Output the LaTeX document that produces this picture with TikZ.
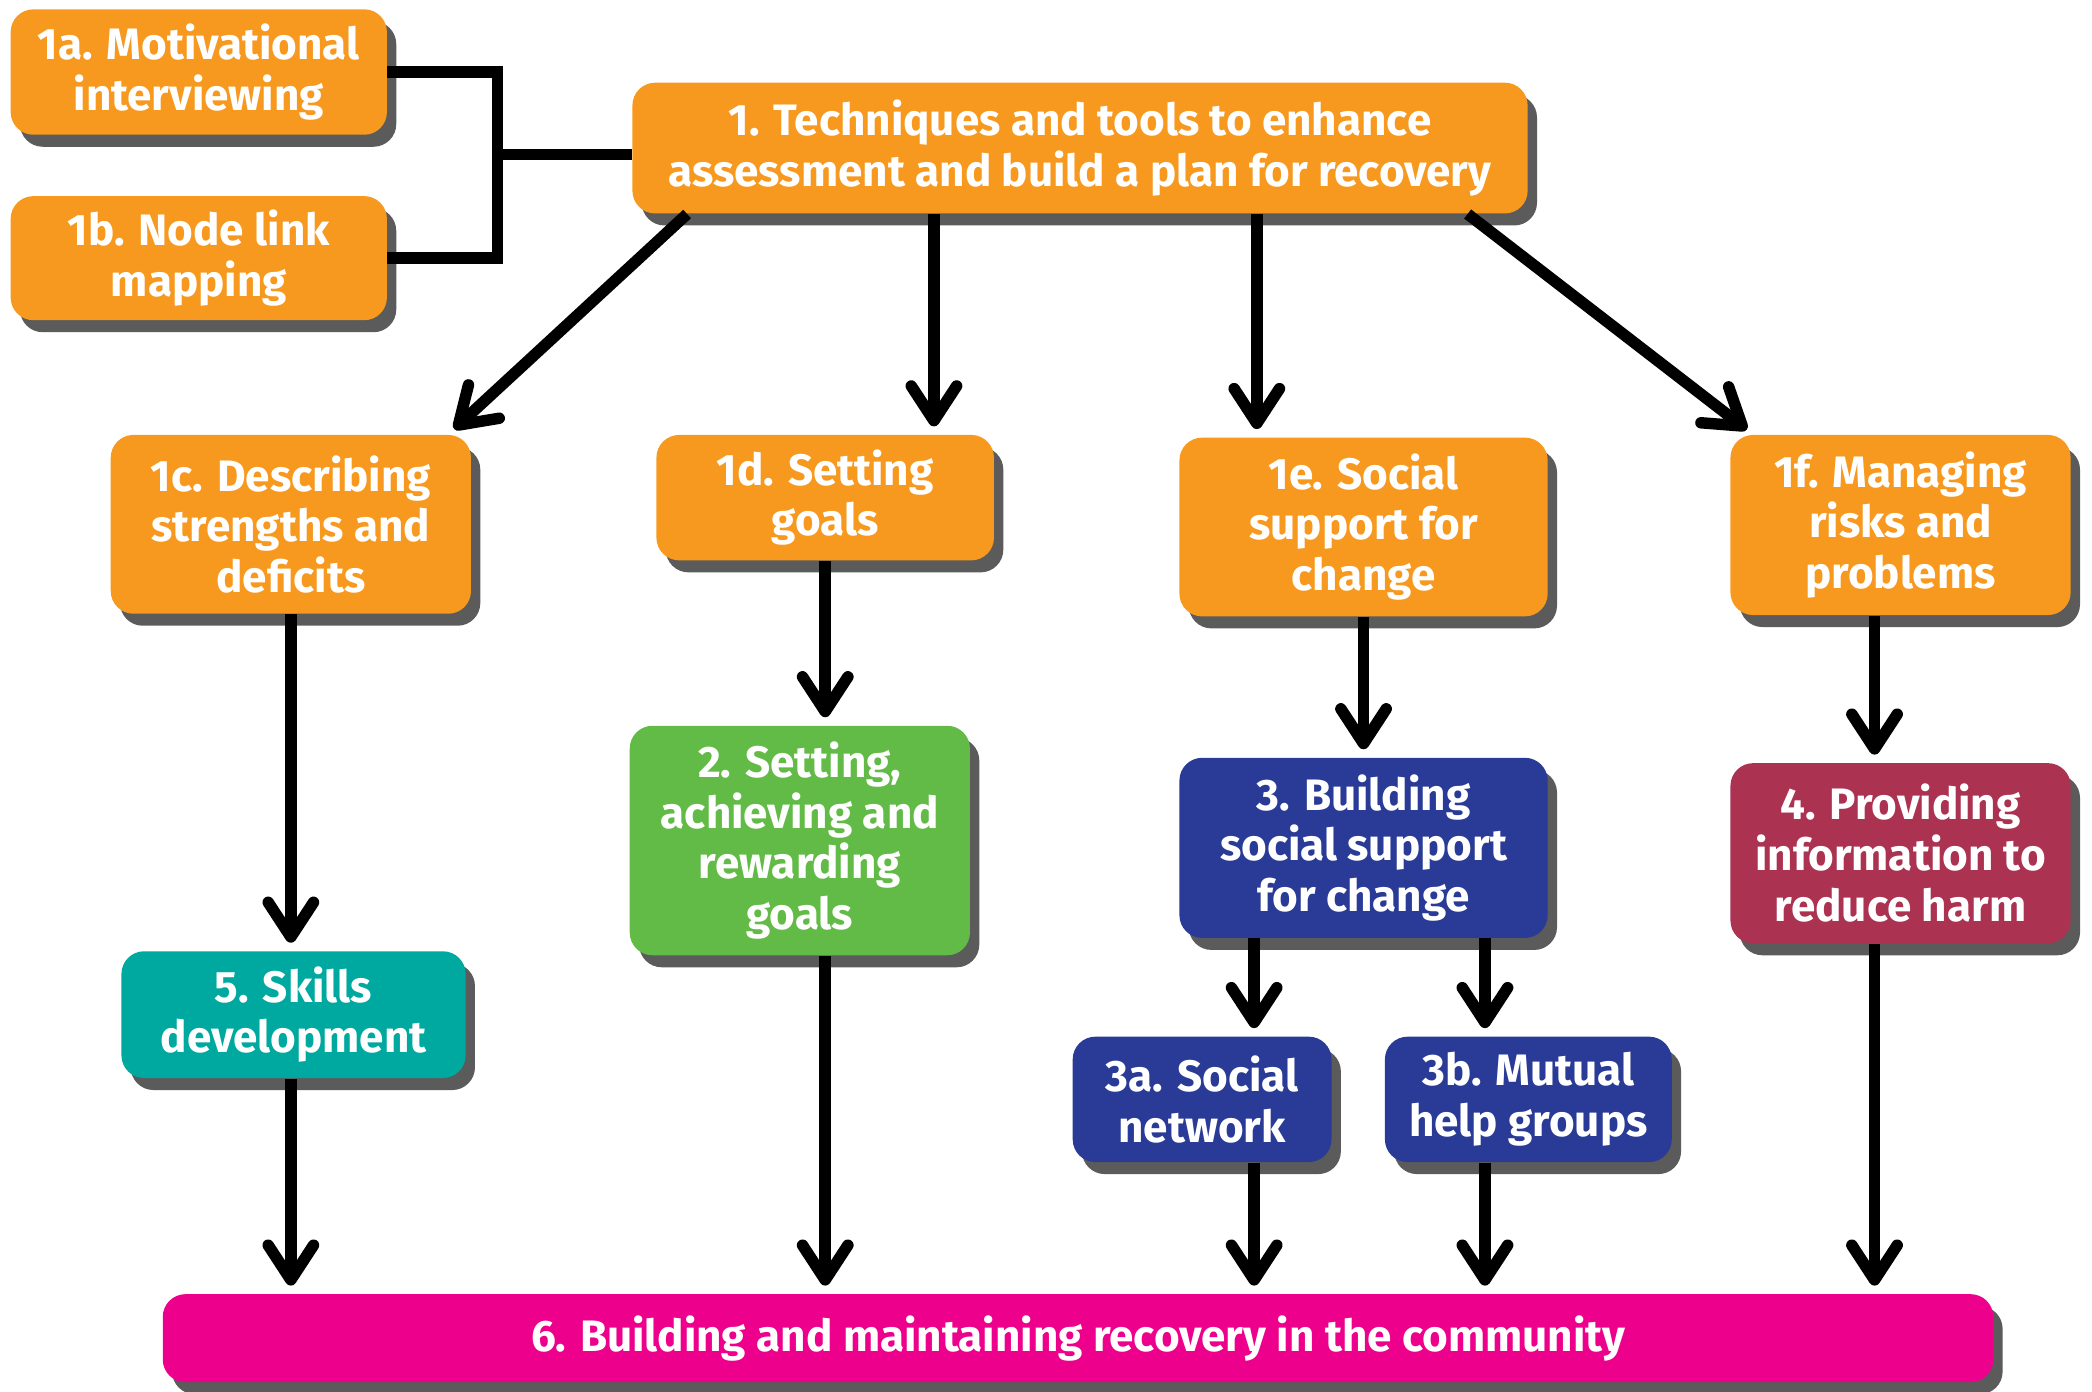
\documentclass[tikz,border=0pt]{standalone}
\usepackage{fontspec}
\setmainfont{Fira Sans}
\usetikzlibrary{arrows.meta,shadows}
\definecolor{corange}{HTML}{F7991F}
\definecolor{cgreen}{HTML}{63BB47}
\definecolor{cblue}{HTML}{293B97}
\definecolor{cred}{HTML}{AB3351}
\definecolor{cteal}{HTML}{00A99F}
\definecolor{cmagenta}{HTML}{EC008C}
\definecolor{cshadow}{HTML}{5B5B5B}
\begin{document}
\begin{tikzpicture}[x=0.5pt,y=-0.5pt,
  box/.style={rounded corners=8.5pt, text=white, align=center, inner sep=0pt,
    font=\fontsize{16.5}{19}\selectfont\bfseries,
    drop shadow={shadow xshift=3.5pt, shadow yshift=-4.5pt, fill=cshadow, opacity=1}},
  conn/.style={line width=4.3pt, draw=black},
  arr/.style={conn, -{Straight Barb[length=13pt,width=17pt,round]}, shorten >=3pt}]
\useasboundingbox (0,0) rectangle (1568,1043);
% nodes
\node[box, fill=corange, minimum width=141pt, minimum height=47pt] (n1a) at (149,54) {1a. Motivational\\interviewing};
\node[box, fill=corange, minimum width=141pt, minimum height=46.5pt] (n1b) at (149,193.5) {1b. Node link\\mapping};
\node[box, fill=corange, minimum width=335.5pt, minimum height=49pt] (n1) at (809.5,111) {1. Techniques and tools to enhance\\assessment and build a plan for recovery};
\node[box, fill=corange, minimum width=135pt, minimum height=67pt] (n1c) at (218,393) {1c. Describing\\strengths and\\deficits};
\node[box, fill=corange, minimum width=126.5pt, minimum height=47pt] (n1d) at (618.5,373) {1d. Setting\\goals};
\node[box, fill=corange, minimum width=138pt, minimum height=67pt] (n1e) at (1022,395) {1e. Social\\support for\\change};
\node[box, fill=corange, minimum width=127.5pt, minimum height=67.5pt] (n1f) at (1424.5,393.5) {1f. Managing\\risks and\\problems};
\node[box, fill=cgreen, minimum width=127.5pt, minimum height=86pt] (n2) at (599.5,630) {2. Setting,\\achieving and\\rewarding\\goals};
\node[box, fill=cblue, minimum width=138pt, minimum height=67.5pt] (n3) at (1022,635.5) {3. Building\\social support\\for change};
\node[box, fill=cred, minimum width=127.5pt, minimum height=67.5pt] (n4) at (1424.5,639.5) {4. Providing\\information to\\reduce harm};
\node[box, fill=cteal, minimum width=129pt, minimum height=47.5pt] (n5) at (220,760.5) {5. Skills\\development};
\node[box, fill=cblue, minimum width=97pt, minimum height=47pt] (n3a) at (901,824) {3a. Social\\network};
\node[box, fill=cblue, minimum width=107.5pt, minimum height=47pt] (n3b) at (1145.5,824) {3b. Mutual\\help groups};
\node[box, fill=cmagenta, minimum width=686pt, minimum height=33pt] (n6) at (808,1003) {6. Building and maintaining recovery in the community};
% helper coordinates
\coordinate (x515) at (515,0);
\coordinate (x336) at (336,0);
\coordinate (x700) at (700,0);
\coordinate (x942) at (942,0);
\coordinate (x1100) at (1100,0);
\coordinate (x1314) at (1314,0);
\coordinate (x940) at (940,0);
\coordinate (x1113) at (1113,0);
\coordinate (x1405) at (1405,0);
\coordinate (jn) at (373,116);
% bracket
\draw[conn] (n1a.east) -| (jn) |- (n1b.east);
\draw[conn] (jn) -- (n1.west |- jn);
% arrows from 1
\draw[arr] (n1.south -| x515) -- (n1c.north -| x336);
\draw[arr] (n1.south -| x700) -- (n1d.north -| x700);
\draw[arr] (n1.south -| x942) -- (n1e.north -| x942);
\draw[arr] (n1.south -| x1100) -- (n1f.north -| x1314);
% second level
\draw[arr] (n1c.south) -- (n5.north -| n1c.south);
\draw[arr] (n1d.south) -- (n2.north -| n1d.south);
\draw[arr] (n1e.south) -- (n3.north -| n1e.south);
\draw[arr] (n1f.south -| x1405) -- (n4.north -| x1405);
\draw[arr] (n3.south -| x940) -- (n3a.north -| x940);
\draw[arr] (n3.south -| x1113) -- (n3b.north -| x1113);
% into 6
\draw[arr] (n5.south -| n1c.south) -- (n6.north -| n1c.south);
\draw[arr] (n2.south -| n1d.south) -- (n6.north -| n1d.south);
\draw[arr] (n3a.south -| x940) -- (n6.north -| x940);
\draw[arr] (n3b.south -| x1113) -- (n6.north -| x1113);
\draw[arr] (n4.south -| x1405) -- (n6.north -| x1405);
\end{tikzpicture}
\end{document}
